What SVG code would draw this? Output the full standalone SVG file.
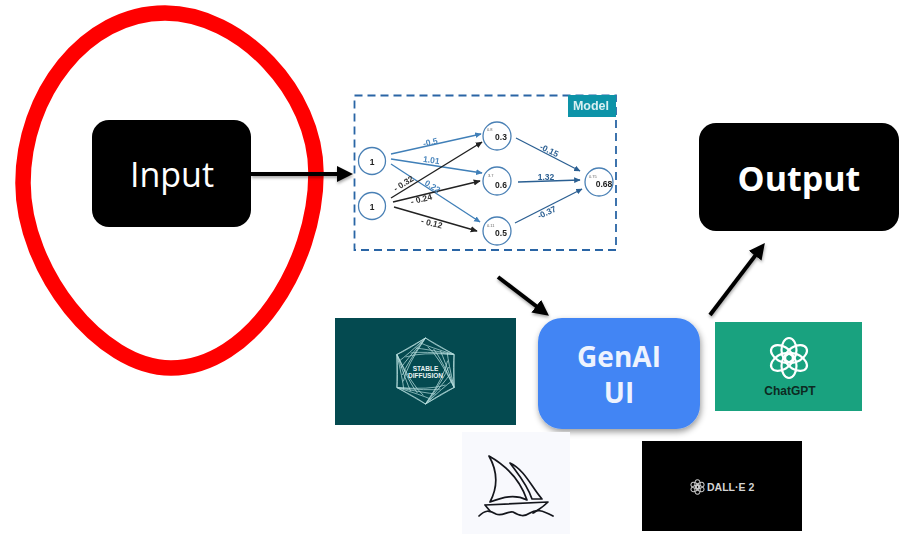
<svg xmlns="http://www.w3.org/2000/svg" width="903" height="534" viewBox="0 0 903 534">
<defs>
<filter id="sh" x="-10%" y="-10%" width="125%" height="125%"><feDropShadow dx="1" dy="3" stdDeviation="3" flood-color="#000" flood-opacity="0.4"/></filter>
<filter id="ash" x="-10%" y="-30%" width="120%" height="160%"><feDropShadow dx="0.500" dy="2" stdDeviation="1.500" flood-color="#000" flood-opacity="0.35"/></filter>
<filter id="soft" x="-5%" y="-5%" width="110%" height="110%"><feGaussianBlur stdDeviation="0.55"/></filter>
<marker id="ab" markerWidth="5" markerHeight="5" refX="4.5" refY="2.5" orient="auto"><path d="M0 0.3L5 2.5L0 4.7Z" fill="#3f7fb8"/></marker>
<marker id="ad" markerWidth="5" markerHeight="5" refX="4.5" refY="2.5" orient="auto"><path d="M0 0.3L5 2.5L0 4.7Z" fill="#2b5f92"/></marker>
<marker id="ak" markerWidth="5" markerHeight="5" refX="4.5" refY="2.5" orient="auto"><path d="M0 0.3L5 2.5L0 4.7Z" fill="#222"/></marker>
<marker id="big" markerWidth="4" markerHeight="4" refX="2" refY="2" orient="auto"><path d="M0 0L4 2L0 4Z" fill="#000"/></marker>
<g id="knot"><g fill="none"><ellipse cx="0" cy="-8" rx="7.500" ry="12"/><ellipse cx="0" cy="-8" rx="7.500" ry="12" transform="rotate(60)"/><ellipse cx="0" cy="-8" rx="7.500" ry="12" transform="rotate(120)"/><ellipse cx="0" cy="-8" rx="7.500" ry="12" transform="rotate(180)"/><ellipse cx="0" cy="-8" rx="7.500" ry="12" transform="rotate(240)"/><ellipse cx="0" cy="-8" rx="7.500" ry="12" transform="rotate(300)"/></g></g>
<g id="wedge" fill="none" stroke="#b6dcdc" stroke-width="0.700"><path d="M0 -33L28.600 -16.500"/><path d="M28.600 -16.500Q8 -27 0 -33M28.600 -16.500Q4 -24 -5 -28M28.600 -16.500Q0 -22 -10 -23M28.600 -16.500Q-3 -20 -15 -18M28.600 -16.500Q-5 -19 -20 -14"/></g>
</defs>
<style>
text{font-family:"Liberation Sans",Arial,sans-serif}
.box{fill:#000}
.n{fill:#fff;stroke:#4a80b5;stroke-width:1.3}
.b{stroke:#3f7fb8;stroke-width:1.3;fill:none;marker-end:url(#ab)}
.d{stroke:#2b5f92;stroke-width:1.3;fill:none;marker-end:url(#ad)}
.k{stroke:#222;stroke-width:1.4;fill:none;marker-end:url(#ak)}
.lb{font-size:8.500px;font-weight:700;fill:#4a86bd;text-anchor:middle}
.ld{font-size:8.500px;font-weight:700;fill:#2b5f92;text-anchor:middle}
.lk{font-size:8.500px;font-weight:700;fill:#333;text-anchor:middle}
.v{font-size:8.500px;font-weight:700;fill:#222;text-anchor:middle}
.s{font-size:4px;fill:#666}
.big{stroke:#000;stroke-width:4;fill:none;marker-end:url(#big)}
.os{font-family:"Open Sans","Liberation Sans",sans-serif}
</style>

<g id="input-highlight"><path d="M165 13C240 13 316 92 316 173C316 265 250 368 171 368C100 368 23 270 23 183C23 95 85 13 165 13Z" fill="none" stroke="#ff0000" stroke-width="15.500" stroke-linejoin="round"/></g>

<g id="input"><rect class="box" x="92" y="120" width="159" height="107" rx="17"/><text class="os" x="172" y="187" font-size="34" fill="#fff" text-anchor="middle">Input</text></g>

<g id="model">
<g filter="url(#soft)">
<rect x="354.500" y="95.500" width="261.500" height="154.500" fill="#fff" stroke="#2a65a5" stroke-width="1.800" stroke-dasharray="8 5"/>
<rect x="568" y="95" width="48" height="22" fill="#0f93a8"/>
<text x="591" y="110" font-size="12.500" font-weight="700" fill="#d8f0f2" text-anchor="middle">Model</text>
<g>
<path class="b" d="M391 154L481 134"/><path class="b" d="M391 159L482 173"/><path class="b" d="M391 164L480 222"/>
<path class="k" d="M391 198L482 142"/><path class="k" d="M393 202L480 181"/><path class="k" d="M394 207L477 231"/>
<path class="d" d="M516 138L580 171"/><path class="d" d="M518 182L580 180"/><path class="d" d="M515 223L582 189"/>
</g>
<g id="n1"><circle class="n" cx="372" cy="161" r="13.500"/><text class="v" x="372" y="165">1</text></g>
<g id="n2"><circle class="n" cx="372" cy="206" r="13.500"/><text class="v" x="372" y="210">1</text></g>
<g id="h1"><circle class="n" cx="497" cy="136" r="14"/><text class="s" x="487" y="131">0.8</text><text class="v" x="501" y="140">0.3</text></g>
<g id="h2"><circle class="n" cx="497" cy="181" r="14"/><text class="s" x="488" y="177">3.7</text><text class="v" x="501" y="188">0.6</text></g>
<g id="h3"><circle class="n" cx="497" cy="231" r="14"/><text class="s" x="487" y="227">0.11</text><text class="v" x="501" y="236">0.5</text></g>
<g id="o1"><circle class="n" cx="599" cy="182" r="14"/><text class="s" x="589" y="178">0.75</text><text class="v" x="604" y="187">0.68</text></g>
<text class="lb" x="431" y="145" transform="rotate(-13 431 145)">-0.5</text>
<text class="lb" x="431" y="163" transform="rotate(8 431 163)">1.01</text>
<text class="lb" x="431" y="189" transform="rotate(32 431 189)">0.22</text>
<text class="lk" x="405" y="186" transform="rotate(-32 405 186)">- 0.32</text>
<text class="lk" x="422" y="202" transform="rotate(-14 422 202)">- 0.24</text>
<text class="lk" x="431" y="226" transform="rotate(14 431 226)">- 0.12</text>
<text class="ld" x="548" y="153" transform="rotate(26 548 153)">-0.15</text>
<text class="ld" x="546" y="180">1.32</text>
<text class="ld" x="548" y="215" transform="rotate(-25 548 215)">-0.37</text>
</g>
</g>

<g id="stable-diffusion"><rect x="335" y="318" width="181" height="107" fill="#044a50"/>
<g transform="translate(425.500 371)"><use href="#wedge"/><use href="#wedge" transform="rotate(60)"/><use href="#wedge" transform="rotate(120)"/><use href="#wedge" transform="rotate(180)"/><use href="#wedge" transform="rotate(240)"/><use href="#wedge" transform="rotate(300)"/></g>
<text x="425.500" y="371" font-size="6.500" font-weight="700" fill="#e8f3f3" text-anchor="middle">STABLE</text><text x="425.500" y="377.500" font-size="6.500" font-weight="700" fill="#e8f3f3" text-anchor="middle">DIFFUSION</text></g>

<g id="genai"><rect x="538" y="318" width="162" height="111" rx="24" fill="#4285f4" filter="url(#sh)"/><text class="os" x="619" y="367" font-size="28" font-weight="700" fill="#eef3fe" text-anchor="middle">GenAI</text><text class="os" x="619" y="403" font-size="28" font-weight="700" fill="#eef3fe" text-anchor="middle">UI</text></g>

<g id="output"><rect class="box" x="699" y="123" width="200" height="108" rx="17"/><text class="os" x="799" y="191" font-size="34" font-weight="700" fill="#fff" text-anchor="middle">Output</text></g>

<g id="chatgpt"><rect x="715" y="322" width="147" height="89" fill="#19a27f"/><use href="#knot" transform="translate(789 358)" stroke="#fff" stroke-width="2.200"/><text x="790" y="395" font-size="12" font-weight="700" fill="#0d2a22" text-anchor="middle">ChatGPT</text></g>

<g id="midjourney"><rect x="462" y="432" width="108" height="102" fill="#f8f9fd"/><g fill="none" stroke="#14161c" stroke-width="1.700" stroke-linejoin="round" stroke-linecap="round"><path d="M489 456C505 465 520 480 527 500C515 494 503 497 490 502C498 487 498 472 489 456Z"/><path d="M510 463C525 470 532 488 542 499L532 499C527 484 518 474 510 463Z"/><path d="M485 505L548 502C542 508 538 510 533 513M485 505L490 511"/><path d="M479 516C485 510 489 510 496 514C502 517 507 511 513 512C520 516 524 517 530 513C536 509 542 510 553 516"/></g></g>

<g id="dalle"><rect x="642" y="441" width="160" height="90" fill="#000"/><use href="#knot" transform="translate(697.500 487) scale(0.360)" stroke="#c9c9c9" stroke-width="2.800"/><text x="707" y="491" font-size="10.500" font-weight="700" fill="#d4d4d4">DALL·E 2</text></g>

<g id="connectors" filter="url(#ash)">
<path class="big" d="M251 174H345"/>
<path class="big" d="M498 277L542.600 311"/>
<path class="big" d="M710 315L760 249.400"/>
</g>
</svg>
